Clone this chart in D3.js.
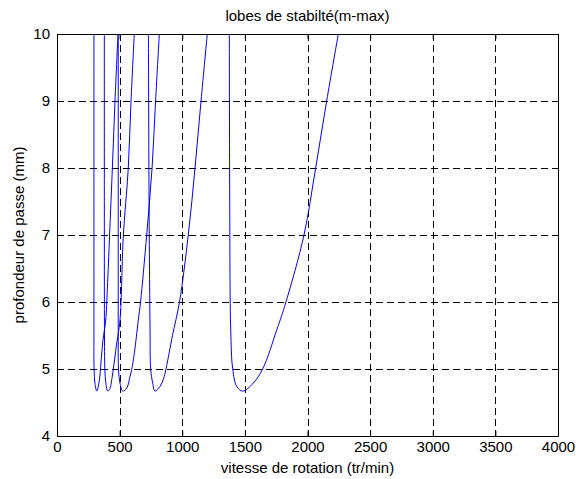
<!DOCTYPE html>
<html>
<head>
<meta charset="utf-8">
<script src="https://cdn.jsdelivr.net/npm/d3@7"></script>
<style>
  body { margin: 0; background: #fff; }
  svg { display: block; }
  text { font-family: "Liberation Sans", Arial, Helvetica, sans-serif; fill: #000; }
</style>
</head>
<body>
<svg id="chart" width="576" height="479"></svg>
<script>
// ---- data (vitesse tr/min, profondeur mm) ----
const xTicks = [0, 500, 1000, 1500, 2000, 2500, 3000, 3500, 4000];
const yTicks = [4, 5, 6, 7, 8, 9, 10];
const titleText = "lobes de stabilté(m-max)";
const xLabel = "vitesse de rotation (tr/min)";
const yLabel = "profondeur de passe (mm)";

const lobe1 = [[295,10],[295,7.5],[295,5.6],[296,5.0],[303,4.79],[317,4.67],[327,4.72],[339,4.84],[351,5.09],[367,5.43],[389,5.73],[402,6.2],[420,7.0],[442,8.0],[463,9.0],[487,10]];
const lobe2 = [[378,10],[378,7.5],[379,5.6],[382,5.0],[390,4.79],[405,4.67],[423,4.71],[437,4.84],[449,4.99],[475,5.36],[503,5.73],[529,6.97],[569,8.0],[591,9.0],[617,10]];
const lobe3 = [[489,10],[489,7.52],[489,5.58],[491,5.0],[503,4.79],[525,4.67],[556,4.71],[583,4.89],[596,4.99],[617,5.23],[649,5.73],[667,6.0],[716,7.0],[759,8.0],[787,9.0],[817,10]];
const lobe4 = [[730,10],[735,7.52],[743,5.58],[748,5.0],[764,4.79],[782,4.67],[822,4.74],[850,4.85],[870,5.0],[922,5.5],[978,6.0],[1048,7.0],[1102,8.0],[1150,9.0],[1200,10]];
const lobe5 = [[1376,10],[1379,7.52],[1387,5.58],[1403,5.0],[1435,4.74],[1483,4.67],[1567,4.79],[1642,5.0],[1754,5.58],[1828,6.0],[1972,7.0],[2065,8.0],[2153,9.0],[2246,10]];
const lobes = [lobe1, lobe2, lobe3, lobe4, lobe5];

// ---- layout ----
const svg = d3.select("#chart");
const mL = 57, mR = 558, mT = 34, mB = 436;
const FS = 15;
const x = d3.scaleLinear().domain([0, 4000]).range([mL, mR]);
const y = d3.scaleLinear().domain([4, 10]).range([mB, mT]);

svg.append("defs").append("clipPath").attr("id", "clip")
  .append("rect").attr("x", mL).attr("y", mT).attr("width", mR - mL).attr("height", mB - mT);

// grid
const grid = svg.append("g").attr("stroke", "#000").attr("stroke-width", 1)
  .attr("stroke-dasharray", "7,4").attr("shape-rendering", "crispEdges");
grid.selectAll("line.vx").data(xTicks.slice(1, -1)).join("line").attr("class", "vx")
  .attr("x1", d => Math.round(x(d)) + 0.5).attr("x2", d => Math.round(x(d)) + 0.5)
  .attr("y1", mT).attr("y2", mB);
grid.selectAll("line.hy").data(yTicks.slice(1, -1)).join("line").attr("class", "hy")
  .attr("y1", d => Math.round(y(d)) + 0.5).attr("y2", d => Math.round(y(d)) + 0.5)
  .attr("x1", mL).attr("x2", mR);

// lobes
const lineGen = d3.line().x(d => x(d[0])).y(d => y(d[1])).curve(d3.curveCatmullRom.alpha(0.5));
svg.append("g").attr("clip-path", "url(#clip)")
  .selectAll("path").data(lobes).join("path")
  .attr("d", d => lineGen(d))
  .attr("fill", "none").attr("stroke", "#0000ff").attr("stroke-width", 1);

// axes (ticks inward, box)
const fmt = d3.format("d");
const xAxisB = d3.axisBottom(x).tickValues(xTicks).tickFormat(fmt).tickSizeInner(-5).tickSizeOuter(0).tickPadding(5);
const yAxisL = d3.axisLeft(y).tickValues(yTicks).tickFormat(fmt).tickSizeInner(-5).tickSizeOuter(0).tickPadding(7);
const gx = svg.append("g").attr("transform", `translate(0,${mB})`).call(xAxisB);
const gy = svg.append("g").attr("transform", `translate(${mL},0)`).call(yAxisL);
const gxt = svg.append("g").attr("transform", `translate(0,${mT})`).call(d3.axisTop(x).tickValues(xTicks).tickSizeInner(-5).tickSizeOuter(0).tickFormat(""));
const gyr = svg.append("g").attr("transform", `translate(${mR},0)`).call(d3.axisRight(y).tickValues(yTicks).tickSizeInner(-5).tickSizeOuter(0).tickFormat(""));
[gx, gy, gxt, gyr].forEach(g => {
  g.select(".domain").attr("stroke", "#000").attr("stroke-width", 1);
  g.selectAll(".tick line").attr("stroke", "#000");
  g.selectAll("text").attr("font-size", FS).attr("font-family", "Liberation Sans, Arial, sans-serif").attr("fill", "#000");
});

// labels
svg.append("text").attr("x", (mL + mR) / 2).attr("y", 21).attr("text-anchor", "middle")
  .attr("font-size", FS).text(titleText);
svg.append("text").attr("x", (mL + mR) / 2).attr("y", 473).attr("text-anchor", "middle")
  .attr("font-size", FS).text(xLabel);
svg.append("text").attr("transform", `translate(24,${(mT + mB) / 2}) rotate(-90)`).attr("text-anchor", "middle")
  .attr("font-size", FS).text(yLabel);
</script>
</body>
</html>
